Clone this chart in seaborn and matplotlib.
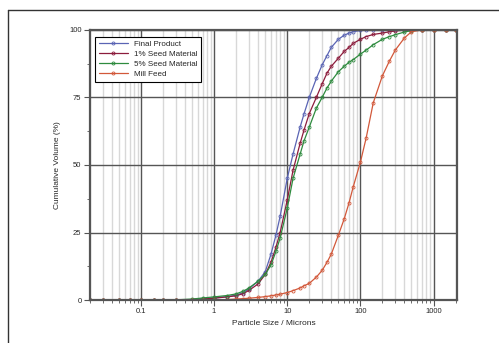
import numpy as np
import pandas as pd
import seaborn as sns
import matplotlib.pyplot as plt
from matplotlib.lines import Line2D
from matplotlib.ticker import FixedLocator, NullFormatter, LogLocator

# Particle sizes (microns) and cumulative volume (%)
sizes = [0.02, 0.03, 0.05, 0.07, 0.1, 0.15, 0.2, 0.3, 0.5, 0.7,
         1.0, 1.5, 2.0, 2.5, 3.0, 4.0, 5.0, 6.0, 7.0, 8.0,
         10, 12, 15, 17, 20, 25, 30, 35, 40, 50,
         60, 70, 80, 100, 120, 150, 200, 250, 300, 400,
         500, 700, 1000, 1500, 2000]

final_product = [0, 0, 0, 0, 0, 0, 0, 0, 0.2, 0.5,
                 0.8, 1.3, 1.8, 2.8, 4.2, 7, 10.5, 17, 24, 31,
                 45, 54, 64, 69, 75, 82, 87, 90.5, 93.5, 96.5,
                 98, 98.8, 99.3, 99.8, 100, 100, 100, 100, 100, 100,
                 100, 100, 100, 100, 100]
seed_1 = [0, 0, 0, 0, 0, 0, 0, 0, 0.2, 0.4,
          0.7, 1.2, 1.6, 2.4, 3.6, 6, 9.5, 14, 19.5, 25,
          37, 48, 58, 63, 69, 75, 80, 84, 86.5, 89.5,
          92, 93.5, 95, 96.5, 97.5, 98.3, 98.8, 99.3, 99.6, 99.9,
          100, 100, 100, 100, 100]
seed_5 = [0, 0, 0, 0, 0, 0, 0, 0.1, 0.4, 0.8,
          1.2, 1.7, 2.3, 3.3, 4.5, 7, 9.5, 13, 18, 23,
          34, 45, 54, 59, 64, 71, 75, 78.5, 81, 84.5,
          86.5, 88, 89, 91, 92.5, 94.5, 96.5, 97.5, 98.2, 99.2,
          99.7, 100, 100, 100, 100]
mill_feed = [0, 0, 0, 0, 0, 0, 0, 0, 0, 0,
             0.1, 0.2, 0.4, 0.55, 0.7, 1.0, 1.3, 1.6, 1.9, 2.2,
             2.8, 3.5, 4.5, 5.3, 6.2, 8.5, 11, 14, 17, 24,
             30, 36, 42, 51, 60, 73, 83, 88.5, 92.5, 97,
             99.3, 100, 100, 100, 100]

series_names = ["Final Product", "1% Seed Material", "5% Seed Material", "Mill Feed"]
series_values = [final_product, seed_1, seed_5, mill_feed]
colors = ["#5a64b4", "#8c1c3c", "#2e8b3e", "#d2583a"]

sns.set_style("white")
plt.rcParams['font.family'] = ['Liberation Sans', 'DejaVu Sans']

fig = plt.figure(figsize=(4.99, 3.43), dpi=100)
ax = fig.add_axes([0.180, 0.125, 0.736, 0.788])

for name, vals, col in zip(series_names, series_values, colors):
    df = pd.DataFrame({'size': sizes, 'vol': vals})
    sns.lineplot(data=df, x='size', y='vol', ax=ax, color=col, lw=0.9,
                 marker='o', markersize=2.2, markerfacecolor='none',
                 markeredgecolor=col, markeredgewidth=0.6, label=name)

ax.set_xscale('log')
ax.set_xlim(0.02, 2100)
ax.set_ylim(0, 100)

ax.xaxis.set_major_locator(FixedLocator([0.1, 1, 10, 100, 1000]))
ax.set_xticklabels(['0.1', '1', '10', '100', '1000'])
ax.xaxis.set_minor_locator(LogLocator(base=10, subs=np.arange(2, 10)))
ax.xaxis.set_minor_formatter(NullFormatter())
ax.set_yticks([0, 25, 50, 75, 100])
ax.yaxis.set_minor_locator(FixedLocator([12.5, 37.5, 62.5, 87.5]))

ax.grid(which='major', color='#555555', lw=1.0)
ax.grid(which='minor', axis='x', color='#d8d8d8', lw=1.0)
ax.set_axisbelow(True)

ax.tick_params(axis='both', which='major', direction='out', length=4, width=0.8,
               color='#555555', labelsize=5.5, pad=2, bottom=True, left=True)
ax.tick_params(axis='both', which='minor', direction='out', length=2, width=0.6,
               color='#555555', bottom=True, left=True)

for sp in ax.spines.values():
    sp.set_color('#555555')
    sp.set_linewidth(1.6)

ax.set_xlabel('Particle Size / Microns', fontsize=6, labelpad=3)
ax.set_ylabel('Cumulative Volume (%)', fontsize=6, labelpad=6)

leg = ax.legend(loc='upper left', fontsize=5.8, frameon=True, fancybox=False,
                edgecolor='black', framealpha=1, borderpad=0.45, labelspacing=0.3,
                handlelength=3.6, handletextpad=0.7, numpoints=1,
                bbox_to_anchor=(0.004, 0.99))
leg.get_frame().set_linewidth(0.8)

# outer frame around the chart (cut off at right and bottom)
fig.add_artist(Line2D([8 / 499, 8 / 499], [0, 1 - 10 / 343], color='#333333', lw=1.0,
                      transform=fig.transFigure))
fig.add_artist(Line2D([8 / 499, 1], [1 - 10 / 343, 1 - 10 / 343], color='#333333', lw=1.0,
                      transform=fig.transFigure))

fig.savefig('out.png', dpi=100)
